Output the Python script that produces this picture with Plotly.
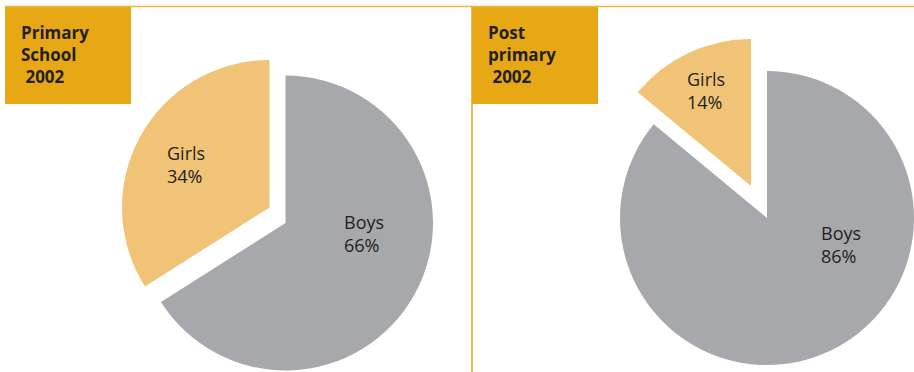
import plotly.graph_objects as go

W, H = 914, 372

# Share of enrolment by sex, 2002 (percent)
categories = ["Boys", "Girls"]
primary_values = [66, 34]
post_primary_values = [86, 14]
panel_titles = ["Primary<br>School<br>\u00a02002", "Post<br>primary<br>\u00a02002"]

GREY = "#A7A8AC"
SAND = "#F0C376"
GOLD = "#E8A714"
INK = "#231F20"
CLEAR = "rgba(0,0,0,0)"


def px_x(x):
    return x / W


def px_y(y):
    return 1 - y / H


def domain(cx, cy, r):
    # square pie domain (paper units) around a pixel centre
    return dict(x=[max(0, px_x(cx - r)), min(1, px_x(cx + r))],
                y=[max(0, px_y(cy + r)), min(1, px_y(cy - r))])


def slice_trace(values, colors, dom, name):
    return go.Pie(
        labels=categories, values=values, sort=False, direction="clockwise",
        rotation=0, marker=dict(colors=colors, line=dict(width=0)),
        textinfo="none", domain=dom, showlegend=False, name=name,
        hovertemplate="%{label}: %{value}%<extra></extra>",
    )


fig = go.Figure()

# Primary school: boys slice, girls slice exploded up-left
fig.add_trace(slice_trace(primary_values, [GREY, CLEAR], domain(285.5, 223, 147.5), "Primary"))
fig.add_trace(slice_trace(primary_values, [CLEAR, SAND], domain(269.5, 207.5, 147.5), "Primary"))
# Post primary: boys slice, girls slice exploded upward
fig.add_trace(slice_trace(post_primary_values, [GREY, CLEAR], domain(767, 218, 147), "Post primary"))
fig.add_trace(slice_trace(post_primary_values, [CLEAR, SAND], domain(751, 186, 147), "Post primary"))

annotations = []
label_font = dict(family="Open Sans, Noto Sans, sans-serif", size=18, color=INK)

# slice labels, text built from the values
label_spots = [
    (primary_values[0], categories[0], 342, 233),
    (primary_values[1], categories[1], 165, 164),
    (post_primary_values[0], categories[0], 819, 244),
    (post_primary_values[1], categories[1], 685, 90),
]
for v, name, x, y in label_spots:
    annotations.append(dict(
        text=f"{name}<br>{v}%", x=px_x(x), y=px_y(y), xref="paper", yref="paper",
        xanchor="left", yanchor="middle", align="left", showarrow=False,
        font=label_font,
    ))

# panel title boxes
shapes = []
for title, (bx0, bx1) in zip(panel_titles, [(5, 131), (472, 598)]):
    shapes.append(dict(type="rect", xref="paper", yref="paper",
                       x0=px_x(bx0), x1=px_x(bx1), y0=px_y(104), y1=px_y(7),
                       fillcolor=GOLD, line=dict(width=0), layer="below"))
    annotations.append(dict(
        text=title, x=px_x(bx0 + 14), y=px_y(19), xref="paper", yref="paper",
        xanchor="left", yanchor="top", align="left", showarrow=False,
        font=dict(family="Open Sans, Noto Sans, sans-serif", size=17, color=INK, weight="bold"),
    ))

# rule along the top and divider between the panels
shapes.append(dict(type="line", xref="paper", yref="paper",
                   x0=px_x(5), x1=1, y0=px_y(6.5), y1=px_y(6.5),
                   line=dict(color="#EDB43F", width=1.5)))
shapes.append(dict(type="line", xref="paper", yref="paper",
                   x0=px_x(472), x1=px_x(472), y0=0, y1=px_y(7),
                   line=dict(color=GOLD, width=1.5)))

fig.update_layout(
    width=W, height=H, margin=dict(l=0, r=0, t=0, b=0),
    paper_bgcolor="white", plot_bgcolor="white",
    shapes=shapes, annotations=annotations,
)

fig.write_html("out.html")
